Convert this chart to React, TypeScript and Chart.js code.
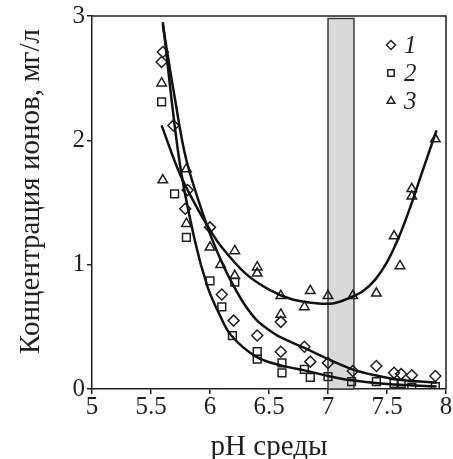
import React, { useEffect, useRef } from "react";
import { Chart, registerables } from "chart.js";

Chart.register(...registerables);

// ---- data ----
const seriesNames = ["1", "2", "3"];

const pH1 = [5.6, 5.59, 5.69, 5.81, 5.79, 6.0, 6.1, 6.2, 6.4, 6.6, 6.6, 6.8, 6.85, 7.0, 7.21, 7.41, 7.56, 7.62, 7.71, 7.91];
const conc1 = [2.71, 2.63, 2.12, 1.6, 1.45, 1.3, 0.76, 0.55, 0.43, 0.54, 0.3, 0.34, 0.22, 0.21, 0.145, 0.185, 0.13, 0.12, 0.11, 0.105];

const pH2 = [5.59, 5.7, 5.8, 6.0, 6.1, 6.19, 6.21, 6.4, 6.4, 6.61, 6.61, 6.8, 6.85, 7.0, 7.2, 7.41, 7.56, 7.62, 7.71, 7.91];
const conc2 = [2.31, 1.57, 1.22, 0.87, 0.66, 0.43, 0.86, 0.3, 0.24, 0.21, 0.13, 0.157, 0.094, 0.099, 0.059, 0.059, 0.046, 0.046, 0.014, 0.019];

const pH3 = [5.59, 5.6, 5.8, 5.8, 6.0, 6.09, 6.21, 6.21, 6.4, 6.4, 6.6, 6.6, 6.8, 6.85, 7.0, 7.21, 7.41, 7.56, 7.61, 7.71, 7.71, 7.91];
const conc3 = [2.46, 1.68, 1.77, 1.33, 1.14, 1.0, 1.11, 0.91, 0.98, 0.93, 0.6, 0.75, 0.66, 0.79, 0.75, 0.75, 0.77, 1.23, 0.99, 1.61, 1.55, 2.01];

// fitted curves
const fitX1 = [5.6, 5.7, 5.8, 5.98, 6.1, 6.2, 6.3, 6.4, 6.5, 6.6, 6.8, 7.0, 7.2, 7.4, 7.6, 7.92];
const fitY1 = [2.93, 2.35, 1.84, 1.3, 1.02, 0.83, 0.67, 0.55, 0.475, 0.415, 0.33, 0.24, 0.16, 0.11, 0.075, 0.05];

const fitX2 = [5.6, 5.74, 5.87, 5.98, 6.08, 6.18, 6.39, 6.6, 6.8, 7.0, 7.2, 7.5, 7.92];
const fitY2 = [2.95, 1.84, 1.2, 0.82, 0.6, 0.43, 0.26, 0.19, 0.15, 0.105, 0.07, 0.04, 0.02];

const fitX3 = [5.59, 5.74, 5.9, 6.0, 6.1, 6.3, 6.5, 6.7, 6.9, 7.05, 7.2, 7.3, 7.4, 7.5, 7.6, 7.7, 7.8, 7.92];
const fitY3 = [2.12, 1.74, 1.44, 1.28, 1.14, 0.93, 0.8, 0.72, 0.69, 0.69, 0.74, 0.79, 0.88, 1.02, 1.22, 1.47, 1.75, 2.08];

// optimum band
const bandFrom = 7.0;
const bandTo = 7.22;
const bandTop = 2.98;

const xTitle = "pH среды";
const yTitle = "Концентрация ионов, мг/л";

const INK = "#231f20";
const FONT = '"Liberation Serif", "Times New Roman", serif';

const toPts = (xs: number[], ys: number[]) => xs.map((x, i) => ({ x, y: ys[i] }));

function drawMarker(ctx: CanvasRenderingContext2D, style: string, x: number, y: number, r: number) {
  ctx.beginPath();
  if (style === "rectRot") {
    ctx.moveTo(x, y - r);
    ctx.lineTo(x + r, y);
    ctx.lineTo(x, y + r);
    ctx.lineTo(x - r, y);
    ctx.closePath();
  } else if (style === "rect") {
    const s = r * Math.SQRT1_2;
    ctx.rect(x - s, y - s, 2 * s, 2 * s);
  } else {
    ctx.moveTo(x, y - r);
    ctx.lineTo(x + r * Math.cos(Math.PI / 6), y + r / 2);
    ctx.lineTo(x - r * Math.cos(Math.PI / 6), y + r / 2);
    ctx.closePath();
  }
  ctx.stroke();
}

const styles = ["rectRot", "rect", "triangle"];

export default function App() {
  const ref = useRef<HTMLCanvasElement>(null);

  useEffect(() => {
    const canvas = ref.current;
    if (!canvas) return;

    const bandPlugin = {
      id: "band",
      beforeDatasetsDraw(chart: any) {
        const { ctx, scales } = chart;
        const x = scales.x, y = scales.y;
        const l = x.getPixelForValue(bandFrom);
        const r = x.getPixelForValue(bandTo);
        const t = y.getPixelForValue(bandTop);
        const b = y.getPixelForValue(0);
        ctx.save();
        ctx.fillStyle = "#d9d9d9";
        ctx.fillRect(l, t, r - l, b - t);
        ctx.strokeStyle = "#3a3a3a";
        ctx.lineWidth = 1.5;
        ctx.strokeRect(l, t, r - l, b - t);
        ctx.restore();
      },
    };

    const framePlugin = {
      id: "frame",
      afterDatasetsDraw(chart: any) {
        const { ctx, chartArea } = chart;
        ctx.save();
        ctx.strokeStyle = INK;
        ctx.lineWidth = 1.5;
        ctx.beginPath();
        ctx.moveTo(chartArea.left, chartArea.top);
        ctx.lineTo(chartArea.right, chartArea.top);
        ctx.lineTo(chartArea.right, chartArea.bottom);
        ctx.stroke();
        ctx.restore();
      },
    };

    const titlesPlugin = {
      id: "axisTitles",
      afterDraw(chart: any) {
        const { ctx, chartArea } = chart;
        ctx.save();
        ctx.fillStyle = INK;
        ctx.font = `29px ${FONT}`;
        ctx.textAlign = "center";
        ctx.textBaseline = "alphabetic";
        ctx.fillText(xTitle, (chartArea.left + chartArea.right) / 2, chart.height - 4);
        ctx.translate(39, (chartArea.top + chartArea.bottom) / 2 - 11);
        ctx.rotate(-Math.PI / 2);
        ctx.fillText(yTitle, 0, 0);
        ctx.restore();
      },
    };

    const legendPlugin = {
      id: "innerLegend",
      afterDraw(chart: any) {
        const { ctx, chartArea } = chart;
        const mx = chartArea.right - 55;
        const ty = chartArea.top + 29;
        const gap = 28;
        ctx.save();
        ctx.strokeStyle = INK;
        ctx.lineWidth = 1.5;
        ctx.fillStyle = INK;
        ctx.font = `italic 25px ${FONT}`;
        ctx.textBaseline = "middle";
        ctx.textAlign = "left";
        seriesNames.forEach((name, i) => {
          const cy = ty + i * gap;
          drawMarker(ctx, styles[i], mx, cy, 4.5);
          ctx.fillText(name, mx + 13, cy + 1);
        });
        ctx.restore();
      },
    };

    const pointDs = (label: string, xs: number[], ys: number[], style: string) => ({
      label,
      data: toPts(xs, ys),
      showLine: false,
      pointStyle: style,
      pointRadius: 5.5,
      pointBorderWidth: 1.5,
      pointBorderColor: INK,
      pointBackgroundColor: "rgba(0,0,0,0)",
      borderColor: INK,
      backgroundColor: "rgba(0,0,0,0)",
    });

    const lineDs = (label: string, xs: number[], ys: number[]) => ({
      label,
      data: toPts(xs, ys),
      showLine: true,
      pointRadius: 0,
      borderColor: "#111",
      borderWidth: 2.5,
      tension: 0.35,
      fill: false,
    });

    const chart = new Chart(canvas, {
      type: "scatter",
      data: {
        datasets: [
          lineDs("fit1", fitX1, fitY1),
          lineDs("fit2", fitX2, fitY2),
          lineDs("fit3", fitX3, fitY3),
          pointDs(seriesNames[0], pH1, conc1, "rectRot"),
          pointDs(seriesNames[1], pH2, conc2, "rect"),
          pointDs(seriesNames[2], pH3, conc3, "triangle"),
        ] as any,
      },
      options: {
        animation: false,
        responsive: false,
        layout: { padding: { top: 16, right: 5, left: 0, bottom: 0 } },
        plugins: {
          legend: { display: false },
          tooltip: { enabled: false },
        },
        scales: {
          x: {
            type: "linear",
            min: 5,
            max: 8,
            ticks: {
              stepSize: 0.5,
              color: INK,
              font: { family: FONT, size: 25, lineHeight: 1 },
              padding: 1,
              maxRotation: 0,
              autoSkip: false,
              callback: (v: any) => String(Number(v)),
            },
            grid: { drawOnChartArea: false, drawTicks: true, tickLength: 5, color: INK, lineWidth: 1.5 },
            border: { color: INK, width: 1.5 },
            title: { display: false },
            afterFit(s: any) {
              s.height = 70;
              s.paddingLeft = 0;
              s.paddingRight = 0;
            },
          },
          y: {
            type: "linear",
            min: 0,
            max: 3,
            ticks: {
              stepSize: 1,
              color: INK,
              font: { family: FONT, size: 25 },
              padding: 2,
              callback: (v: any) => String(Number(v)),
            },
            grid: { drawOnChartArea: false, drawTicks: true, tickLength: 5, color: INK, lineWidth: 1.5 },
            border: { color: INK, width: 1.5 },
            title: { display: false },
            afterFit(s: any) {
              s.width = 92;
              s.paddingTop = 0;
              s.paddingBottom = 0;
            },
          },
        },
      } as any,
      plugins: [bandPlugin, framePlugin, titlesPlugin, legendPlugin],
    });

    return () => chart.destroy();
  }, []);

  return (
    <div style={{ position: "absolute", left: 0, top: 0, width: 453, height: 459, background: "#fff" }}>
      <canvas ref={ref} width={453} height={459} style={{ display: "block" }} />
    </div>
  );
}
